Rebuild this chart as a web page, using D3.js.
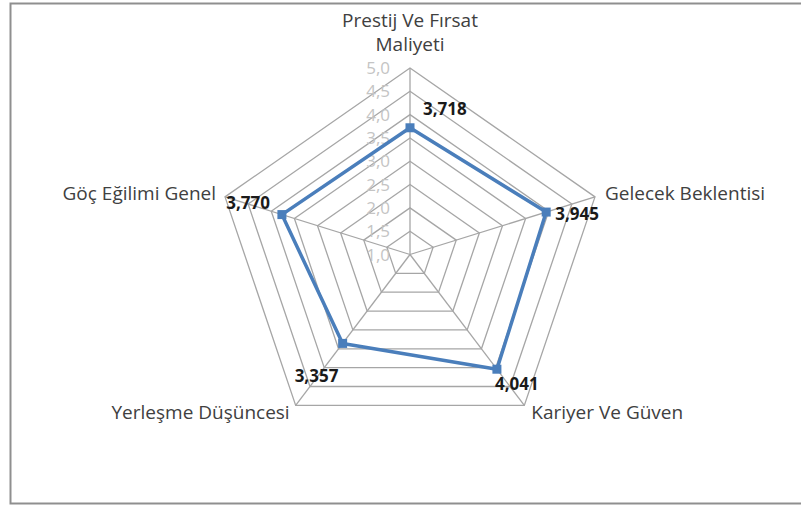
<!DOCTYPE html>
<html>
<head>
<meta charset="utf-8">
<script src="https://cdn.jsdelivr.net/npm/d3@7"></script>
<style>
  body { margin: 0; background: #fff; }
  svg text { font-family: "Open Sans", Lato, sans-serif; }
</style>
</head>
<body>
<svg id="chart" width="801" height="507"></svg>
<script>
// data
var categories = [["Prestij Ve Fırsat", "Maliyeti"], ["Gelecek Beklentisi"], ["Kariyer Ve Güven"], ["Yerleşme Düşüncesi"], ["Göç Eğilimi Genel"]];
var values = [3.718, 3.945, 4.041, 3.357, 3.770];
var ticks = [1.0, 1.5, 2.0, 2.5, 3.0, 3.5, 4.0, 4.5, 5.0];

// layout
var cx = 410, cy = 254.5, rx = 194.5, ry = 186.5;
var svg = d3.select("#chart");

svg.append("rect")
    .attr("x", 10.5).attr("y", 3.5).attr("width", 800).attr("height", 500)
    .attr("fill", "#fff").attr("stroke", "#8f8f8f").attr("stroke-width", 2);

var r = d3.scaleLinear().domain([1, 5]).range([0, 1]);
var angle = d3.scalePoint().domain(d3.range(categories.length)).range([0, 2 * Math.PI * (categories.length - 1) / categories.length]);

function pt(i, v) {
    var a = angle(i), f = r(v);
    return [cx + rx * f * Math.sin(a), cy - ry * f * Math.cos(a)];
}

// rings
var line = d3.line().curve(d3.curveLinearClosed);
var g = svg.append("g");
g.selectAll("path.ring").data(ticks.slice(1)).enter()
    .append("path").attr("class", "ring")
    .attr("d", function (t) { return line(d3.range(categories.length).map(function (i) { return pt(i, t); })); })
    .attr("fill", "none").attr("stroke", "#a6a6a6").attr("stroke-width", 1.3);

// spokes
g.selectAll("line.spoke").data(d3.range(categories.length)).enter()
    .append("line").attr("class", "spoke")
    .attr("x1", cx).attr("y1", cy)
    .attr("x2", function (i) { return pt(i, 5)[0]; })
    .attr("y2", function (i) { return pt(i, 5)[1]; })
    .attr("stroke", "#a6a6a6").attr("stroke-width", 1.3);

// tick labels
g.selectAll("text.tick").data(ticks).enter()
    .append("text").attr("class", "tick")
    .attr("x", cx - 20)
    .attr("y", function (t) { return pt(0, t)[1] + 6; })
    .attr("text-anchor", "end")
    .attr("font-size", 17)
    .attr("fill", "#c4c4c4")
    .text(function (t) { return t.toFixed(1).replace(".", ","); });

// series
var pts = values.map(function (v, i) { return pt(i, v); });
svg.append("path")
    .attr("d", line(pts))
    .attr("fill", "none").attr("stroke", "#4a7ebb").attr("stroke-width", 3.5)
    .attr("stroke-linejoin", "round");
svg.selectAll("rect.mark").data(pts).enter()
    .append("rect").attr("class", "mark")
    .attr("x", function (d) { return d[0] - 4.5; })
    .attr("y", function (d) { return d[1] - 4.5; })
    .attr("width", 9).attr("height", 9)
    .attr("fill", "#4a7ebb");

// value labels
var labelOffsets = [[13, -13, "start"], [9, 8, "start"], [-2, 21, "start"], [-48, 39, "start"], [-12, -6, "end"]];
svg.selectAll("text.val").data(values).enter()
    .append("text").attr("class", "val")
    .attr("x", function (v, i) { return pts[i][0] + labelOffsets[i][0]; })
    .attr("y", function (v, i) { return pts[i][1] + labelOffsets[i][1]; })
    .attr("text-anchor", function (v, i) { return labelOffsets[i][2]; })
    .attr("font-size", 17).attr("font-weight", "bold").attr("fill", "#1a1a1a")
    .text(function (v) { return v.toFixed(3).replace(".", ","); });

// category labels
var catPos = [[0, -41, "middle"], [10, 3, "start"], [7, 14, "start"], [-6, 14, "end"], [-9, 3, "end"]];
categories.forEach(function (c, i) {
    var p = pt(i, 5);
    var t = svg.append("text")
        .attr("x", p[0] + catPos[i][0])
        .attr("y", p[1] + catPos[i][1])
        .attr("text-anchor", catPos[i][2])
        .attr("font-size", 19).attr("fill", "#404040");
    c.forEach(function (s, k) {
        t.append("tspan").attr("x", p[0] + catPos[i][0]).attr("dy", k ? 24 : 0).text(s);
    });
});
</script>
</body>
</html>
